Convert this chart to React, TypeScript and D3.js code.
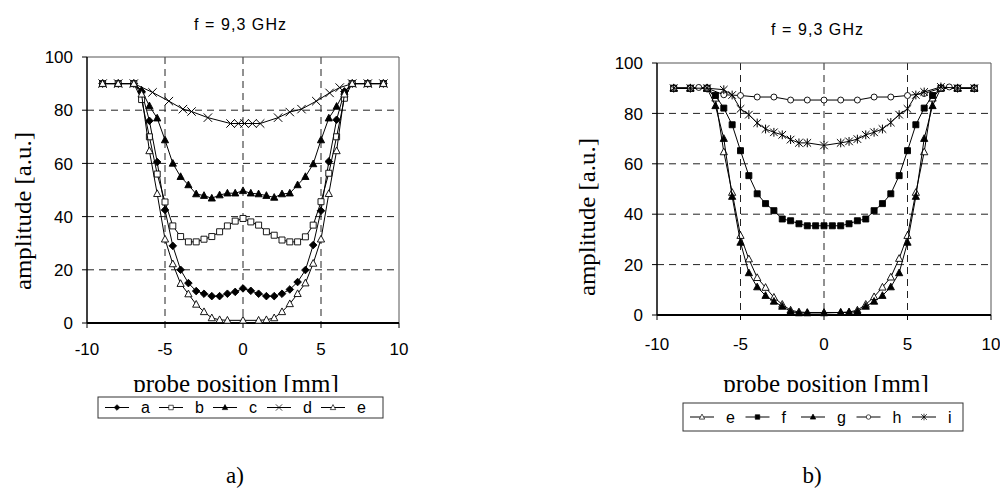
import * as d3 from "d3";

// probe positions [mm]
const posFull = [-9, -8, -7, -6.5, -6, -5.5, -5, -4.5, -4, -3.5, -3, -2.5, -2, -1.5, -1, -0.5, 0, 0.5, 1, 1.5, 2, 2.5, 3, 3.5, 4, 4.5, 5, 5.5, 6, 6.5, 7, 8, 9];
const posNoHalf = [-9, -8, -7, -6.5, -6, -5.5, -5, -4.5, -4, -3.5, -3, -2.5, -2, -1.5, -1, 0, 1, 1.5, 2, 2.5, 3, 3.5, 4, 4.5, 5, 5.5, 6, 6.5, 7, 8, 9];
const posD = [-9, -8, -7, -5.8, -4.75, -3.85, -3.3, -2.25, -0.8, -0.3, 0.1, 0.6, 1.1, 2.25, 3, 3.75, 4.7, 5.55, 6.2, 7, 8, 9];
const posH = [-9, -8, -7.5, -7, -6, -5, -4, -3, -2, -1, 0, 1, 2, 3, 4, 5, 6, 7, 7.5, 8, 9];
const posI = [-9, -8, -7, -6, -5.5, -5, -4.5, -4, -3.5, -3, -2.5, -2, -1.5, -1, 0, 1, 1.5, 2, 2.5, 3, 3.5, 4, 4.5, 5, 5.5, 6, 7, 8, 9];

// amplitude [a.u.]
const aVals = [90, 90, 90, 87, 76, 60.5, 42.5, 29, 20, 15, 12, 11, 10.1, 10.1, 11, 11.7, 13, 12.1, 11, 10.1, 10.1, 11, 12.6, 15.4, 19.9, 29.3, 42.2, 60.7, 76.4, 87, 90, 90, 90];
const bVals = [90, 90, 90, 84, 70, 56, 45.5, 36.5, 32.5, 30.5, 30.5, 31.5, 32.5, 34.3, 36.5, 38.3, 39.3, 38, 36.8, 34.3, 33, 31.2, 30.5, 30.5, 32.4, 36.8, 45.6, 56.3, 70, 84.5, 90, 90, 90];
const cVals = [90, 90, 90, 87.5, 81.6, 77, 68.8, 60, 55, 51.9, 48.5, 47.9, 46.9, 48.1, 48.8, 48.8, 49.7, 48.8, 48.5, 47.9, 47.2, 48.5, 48.8, 51.9, 55, 59.8, 68.8, 77, 81.4, 87, 90, 90, 90];
const dVals = [90, 90, 90, 86.7, 83.4, 80.4, 79.5, 77.2, 75, 75, 75, 75, 75, 77.2, 79.3, 80.4, 83.4, 86.5, 88.5, 90, 90, 90];
const eVals = [90, 90, 90, 86, 64.7, 48.6, 31.5, 22.2, 14.8, 10.9, 7, 4.2, 1.9, 1.2, 1, 1, 1, 1.2, 1.9, 4.2, 7.2, 11, 15, 22.4, 31.5, 48.6, 64.7, 86, 90, 90, 90];
const fVals = [90, 90, 90, 87.1, 82.1, 75.5, 65.2, 55.3, 48.1, 44.2, 41.4, 38.1, 37.4, 36.2, 35.4, 35.4, 35.4, 35.4, 35.4, 36.2, 37.4, 38.1, 41.4, 44.2, 48.1, 55.3, 65.2, 75.5, 82.1, 87.1, 90, 90, 90];
const gVals = [90, 90, 90, 83, 70, 47, 28.8, 16.7, 11.1, 7.7, 5.4, 3.4, 1.4, 0.8, 0.8, 0.8, 1, 1, 1.4, 3.4, 5.4, 7.7, 11.1, 16.7, 28.8, 47, 70, 83, 90, 90, 90];
const hVals = [90, 90, 90.3, 90, 87.4, 87.1, 86.5, 86.5, 85.3, 85.3, 85.3, 85.3, 85.3, 86.5, 86.5, 87.1, 87.9, 90, 90.5, 90, 90];
const iVals = [90, 90, 90, 89.4, 87.3, 81.8, 79.5, 76.2, 73.8, 72.5, 71.5, 69.6, 68.3, 68.3, 67.3, 68.3, 68.9, 69.8, 71.5, 72.5, 73.8, 76.4, 79.5, 81.8, 87.3, 88.5, 90.5, 90, 90];

const xTicks = [-10, -5, 0, 5, 10];
const yTicks = [0, 20, 40, 60, 80, 100];
const xGrid = [-5, 0, 5];
const yGrid = [20, 40, 60, 80];

type Kind = "diamond" | "square" | "triangle" | "times" | "circle" | "star";
type Series = { name: string; xs: number[]; ys: number[]; kind: Kind; filled: boolean };

const seriesA: Series[] = [
  { name: "a", xs: posFull, ys: aVals, kind: "diamond", filled: true },
  { name: "b", xs: posFull, ys: bVals, kind: "square", filled: false },
  { name: "c", xs: posFull, ys: cVals, kind: "triangle", filled: true },
  { name: "d", xs: posD, ys: dVals, kind: "times", filled: false },
  { name: "e", xs: posNoHalf, ys: eVals, kind: "triangle", filled: false },
];
const seriesB: Series[] = [
  { name: "e", xs: posNoHalf, ys: eVals, kind: "triangle", filled: false },
  { name: "f", xs: posFull, ys: fVals, kind: "square", filled: true },
  { name: "g", xs: posNoHalf, ys: gVals, kind: "triangle", filled: true },
  { name: "h", xs: posH, ys: hVals, kind: "circle", filled: false },
  { name: "i", xs: posI, ys: iVals, kind: "star", filled: false },
];

function markerPath(kind: Kind): string {
  switch (kind) {
    case "diamond":
      return "M0,-3.8L3.8,0L0,3.8L-3.8,0Z";
    case "square":
      return "M-3,-3H3V3H-3Z";
    case "triangle":
      return "M0,-3.9L3.6,2.8H-3.6Z";
    case "times":
      return "M-4.2,-4.2L4.2,4.2M-4.2,4.2L4.2,-4.2";
    case "star":
      return "M-3.8,-3.8L3.8,3.8M-3.8,3.8L3.8,-3.8M0,-4.4V4.4";
    default:
      return "";
  }
}

function Marker({ kind, filled, x, y }: { kind: Kind; filled: boolean; x: number; y: number }) {
  const fill = filled ? "#000" : "#fff";
  if (kind === "circle") {
    return <circle cx={x} cy={y} r={3} fill={fill} stroke="#000" strokeWidth={0.9} />;
  }
  const open = kind === "times" || kind === "star";
  return (
    <path
      transform={`translate(${x},${y})`}
      d={markerPath(kind)}
      fill={open ? "none" : fill}
      stroke="#000"
      strokeWidth={open ? 1 : 0.9}
    />
  );
}

type PanelProps = {
  id: string;
  series: Series[];
  left: number;
  right: number;
  top: number;
  bottom: number;
  titleX: number;
  titleY: number;
  xTickY: number;
  yLabelX: number;
  yLabelY: number;
  xLabelX: number;
  legend: { x: number; y: number; w: number; h: number; start: number; step: number };
  caption: string;
  captionX: number;
};

function Panel(p: PanelProps) {
  const x = d3.scaleLinear().domain([-10, 10]).range([p.left, p.right]);
  const y = d3.scaleLinear().domain([0, 100]).range([p.bottom, p.top]);
  const line = d3
    .line<[number, number]>()
    .x((d) => x(d[0]))
    .y((d) => y(d[1]));
  const sans = "Arial, 'Liberation Sans', sans-serif";
  const serif = "'Times New Roman', 'Liberation Serif', serif";
  const ly = p.legend.y + p.legend.h / 2;

  return (
    <g>
      <text x={p.titleX} y={p.titleY} textAnchor="middle" fontFamily={sans} fontSize={16} textLength={92}>
        f = 9,3 GHz
      </text>

      {/* grid */}
      {yGrid.map((v) => (
        <line key={"gy" + v} x1={p.left} x2={p.right} y1={y(v)} y2={y(v)} stroke="#222" strokeWidth={1} strokeDasharray="7,5" />
      ))}
      {xGrid.map((v) => (
        <line key={"gx" + v} x1={x(v)} x2={x(v)} y1={p.top} y2={p.bottom} stroke="#222" strokeWidth={1} strokeDasharray="7,5" />
      ))}

      {/* frame */}
      <line x1={p.left} x2={p.right} y1={p.top} y2={p.top} stroke="#555" strokeWidth={1} />
      <line x1={p.right} x2={p.right} y1={p.top} y2={p.bottom} stroke="#555" strokeWidth={1} />
      <line x1={p.left} x2={p.left} y1={p.top} y2={p.bottom} stroke="#000" strokeWidth={1.5} />
      <line x1={p.left} x2={p.right} y1={p.bottom} y2={p.bottom} stroke="#000" strokeWidth={2} />

      {yTicks.map((v) => (
        <g key={"yt" + v}>
          <line x1={p.left - 5} x2={p.left} y1={y(v)} y2={y(v)} stroke="#000" strokeWidth={1} />
          <text x={p.left - 14} y={y(v)} dy="0.36em" textAnchor="end" fontFamily={sans} fontSize={17}>
            {v}
          </text>
        </g>
      ))}
      {xTicks.map((v) => (
        <g key={"xt" + v}>
          <line x1={x(v)} x2={x(v)} y1={p.bottom} y2={p.bottom + 5} stroke="#000" strokeWidth={1} />
          <text x={x(v)} y={p.xTickY} textAnchor="middle" fontFamily={sans} fontSize={17}>
            {v}
          </text>
        </g>
      ))}

      {/* series */}
      {p.series.map((s) => {
        const pts = s.xs.map((v, i) => [v, s.ys[i]] as [number, number]);
        return (
          <g key={s.name}>
            <path d={line(pts) || ""} fill="none" stroke="#000" strokeWidth={1} />
            {pts.map((d, i) => (
              <Marker key={i} kind={s.kind} filled={s.filled} x={x(d[0])} y={y(d[1])} />
            ))}
          </g>
        );
      })}

      <text
        transform={`translate(${p.yLabelX},${p.yLabelY}) rotate(-90)`}
        textAnchor="middle"
        dy="0.32em"
        fontFamily={serif}
        fontSize={23}
        textLength={158}
        lengthAdjust="spacingAndGlyphs"
      >
        amplitude [a.u.]
      </text>

      <clipPath id={"clip" + p.id}>
        <rect x={0} y={0} width={1000} height={392} />
      </clipPath>
      <text x={p.xLabelX} y={392} textAnchor="middle" fontFamily={serif} fontSize={25} clipPath={`url(#clip${p.id})`}>
        probe position [mm]
      </text>

      <rect x={p.legend.x} y={p.legend.y} width={p.legend.w} height={p.legend.h} fill="#fff" stroke="#333" strokeWidth={1} />
      {p.series.map((s, i) => {
        const lx = p.legend.start + i * p.legend.step;
        return (
          <g key={"lg" + s.name}>
            <line x1={lx} x2={lx + 24} y1={ly} y2={ly} stroke="#000" strokeWidth={1} />
            <g transform={`translate(${lx + 12},${ly}) scale(0.75)`}>
              <Marker kind={s.kind} filled={s.filled} x={0} y={0} />
            </g>
            <text x={lx + 36} y={ly} dy="0.36em" fontFamily={sans} fontSize={16}>
              {s.name}
            </text>
          </g>
        );
      })}

      <text x={p.captionX} y={483} textAnchor="middle" fontFamily={serif} fontSize={23}>
        {p.caption}
      </text>
    </g>
  );
}

export default function App() {
  return (
    <div style={{ position: "absolute", left: 0, top: 0, width: 1000, height: 495, background: "#fff" }}>
      <svg width={1000} height={495} style={{ display: "block" }}>
        <rect width={1000} height={495} fill="#fff" />
        <Panel
          id="a"
          series={seriesA}
          left={87}
          right={399}
          top={57}
          bottom={323}
          titleX={240}
          titleY={30}
          xTickY={355}
          yLabelX={24}
          yLabelY={211}
          xLabelX={236}
          legend={{ x: 98, y: 397, w: 285, h: 21, start: 105, step: 54 }}
          caption="a)"
          captionX={235}
        />
        <Panel
          id="b"
          series={seriesB}
          left={657}
          right={991}
          top={63}
          bottom={315}
          titleX={817}
          titleY={35}
          xTickY={350}
          yLabelX={588}
          yLabelY={217}
          xLabelX={826}
          legend={{ x: 683, y: 403, w: 280, h: 28, start: 690, step: 55.5 }}
          caption="b)"
          captionX={812}
        />
      </svg>
    </div>
  );
}
